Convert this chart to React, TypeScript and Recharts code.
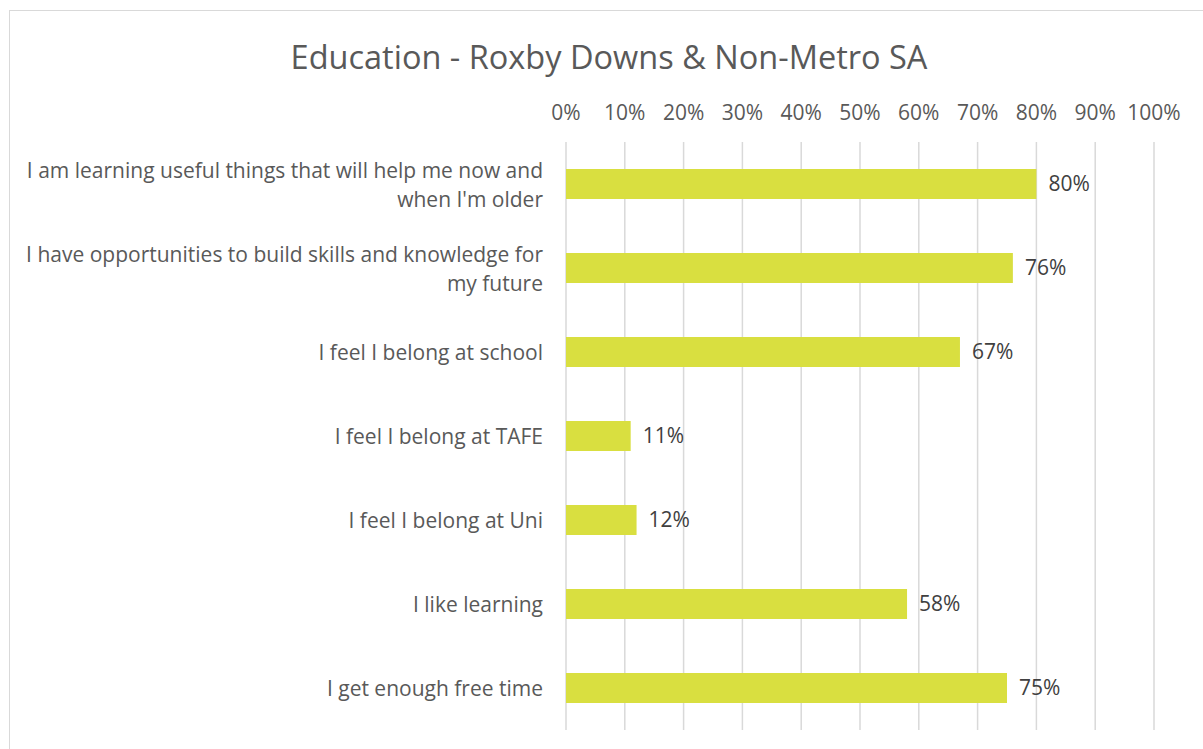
import React from 'react'
import {
  BarChart,
  Bar,
  XAxis,
  YAxis,
  CartesianGrid,
  LabelList
} from 'recharts'

const categories = [
  "I am learning useful things that will help me now and when I'm older",
  'I have opportunities to build skills and knowledge for my future',
  'I feel I belong at school',
  'I feel I belong at TAFE',
  'I feel I belong at Uni',
  'I like learning',
  'I get enough free time'
]

const shares = [0.8, 0.76, 0.67, 0.11, 0.12, 0.58, 0.75]

const xTicks = [0, 0.1, 0.2, 0.3, 0.4, 0.5, 0.6, 0.7, 0.8, 0.9, 1]

const title = 'Education - Roxby Downs & Non-Metro SA'

const font = '"Open Sans", "Noto Sans", sans-serif'

const data = categories.map((c, i) => ({ name: c, value: shares[i] }))

const pct = (v: number) => `${Math.round(v * 100)}%`

function wrap(text: string, max: number) {
  const lines: string[] = []
  let cur = ''
  for (const w of text.split(' ')) {
    const next = cur ? cur + ' ' + w : w
    if (next.length > max && cur) {
      lines.push(cur)
      cur = w
    } else {
      cur = next
    }
  }
  if (cur) lines.push(cur)
  return lines
}

function CategoryTick(props: any) {
  const { x, y, payload } = props
  const lines = wrap(payload.value, 55)
  const lh = 29
  const startY = y - ((lines.length - 1) * lh) / 2
  return (
    <text
      x={x}
      y={startY}
      textAnchor="end"
      dominantBaseline="central"
      fill="#595959"
      fontSize={21}
      fontFamily={font}
    >
      {lines.map((l, i) => (
        <tspan key={i} x={x} y={startY + i * lh}>
          {l}
        </tspan>
      ))}
    </text>
  )
}

export default function App() {
  return (
    <div
      style={{
        position: 'absolute',
        left: 0,
        top: 0,
        width: 1203,
        height: 749,
        background: '#fff',
        fontFamily: font,
        overflow: 'hidden'
      }}
    >
      <div
        style={{
          position: 'absolute',
          left: 9,
          top: 10,
          width: 1210,
          height: 760,
          border: '1px solid #d9d9d9'
        }}
      />
      <div
        style={{
          position: 'absolute',
          left: 0,
          top: 34,
          width: 1218,
          textAlign: 'center',
          fontSize: 32.5,
          color: '#595959',
          fontFamily: font
        }}
      >
        {title}
      </div>
      <BarChart
        width={1203}
        height={749}
        data={data}
        layout="vertical"
        margin={{ top: 100, right: 49, left: 0, bottom: 19 }}
        barSize={30}
        style={{ position: 'absolute', left: 0, top: 0 }}
      >
        <CartesianGrid
          horizontal={false}
          stroke="#d9d9d9"
          strokeWidth={1.5}
        />
        <XAxis
          type="number"
          orientation="top"
          domain={[0, 1]}
          ticks={xTicks}
          tickFormatter={pct}
          height={42}
          axisLine={false}
          tickLine={false}
          tickSize={0}
          tickMargin={22}
          interval={0}
          tick={{ fill: '#595959', fontSize: 21, fontFamily: font }}
        />
        <YAxis
          type="category"
          dataKey="name"
          width={566}
          axisLine={false}
          tickLine={false}
          tickSize={0}
          tickMargin={23}
          interval={0}
          tick={<CategoryTick />}
        />
        <Bar dataKey="value" fill="#d9df40" isAnimationActive={false}>
          <LabelList
            dataKey="value"
            position="right"
            offset={12}
            formatter={(v: any) => pct(Number(v))}
            fill="#404040"
            fontSize={21}
            fontFamily={font}
          />
        </Bar>
      </BarChart>
    </div>
  )
}
